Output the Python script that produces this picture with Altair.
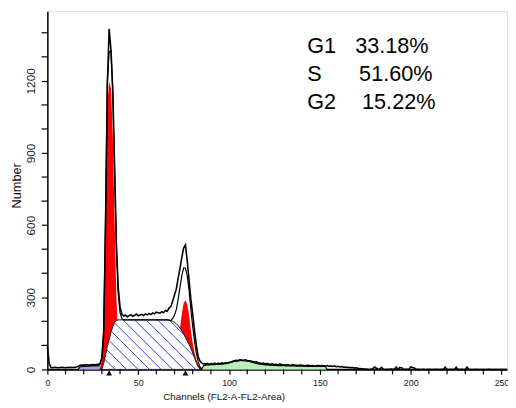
import altair as alt
import numpy as np
import pandas as pd

# ---------------- data ----------------
channels = list(range(0, 254))
counts = (
    [95, 25, 8, 7, 9, 8, 7, 8, 9, 8, 7, 8, 9, 8, 8, 9, 10, 12]                      # 0-17
    + [17, 18, 18, 19, 19, 18, 19, 20, 19, 20, 21, 25]                               # 18-29
    + [48, 150, 600, 1180, 1416, 1330, 1160, 850, 520, 340, 260, 230]                # 30-41
    + [222, 226, 219, 224, 228, 221, 225, 230, 223, 226, 229, 224, 231, 227, 233, 228, 235, 231, 238, 236]  # 42-61
    + [234, 240, 236, 245, 242, 255, 262, 285, 310, 335, 380, 420, 465, 505, 518, 450, 370, 290, 230, 160,
       100, 55, 35, 26, 24]                                                          # 62-86
    + [22, 25, 21, 24, 22, 26, 23, 25, 24, 27, 25, 28, 27, 30, 31, 34, 36, 38, 37, 40,
       39, 38, 40, 37, 36, 35, 33, 31, 32, 28, 27, 25, 26, 23, 24, 22, 21, 23, 20, 21,
       19, 22, 20, 19, 18, 20, 18, 17, 19, 18, 17, 16, 18, 17, 16, 15, 17, 16, 15, 16,
       14, 15, 17, 14, 16, 15, 14, 16, 13, 14, 12, 15, 11, 13, 10, 12, 9, 10, 8, 9,
       7, 8, 6, 7, 5, 4, 3, 2]                                                       # 87-174
    + [2, 1, 0, 1, 2, 10, 6, 1, 2, 9, 1, 0, 1, 0, 2, 1, 0, 10, 1, 8,
       7, 0, 1, 1, 0, 10, 8, 6, 0, 1, 0, 0, 1, 0, 0, 1, 0, 0, 0, 1,
       0, 0, 1, 0, 10, 0, 0, 1, 0, 0, 9, 0, 0, 1, 0, 0, 10, 0, 0, 0,
       0, 1, 0, 0, 0, 0, 0, 0, 1, 0, 0, 0, 0, 0, 0, 0, 0, 0, 0]                      # 175-253
)

g1_ch = list(range(28, 43))
g1_val = [0, 6, 35, 140, 560, 1100, 1195, 1170, 980, 620, 300, 110, 30, 5, 0]

g2_ch = list(range(68, 87))
g2_val = [0, 12, 30, 60, 110, 170, 230, 275, 288, 270, 225, 160, 110, 70, 40, 20, 8, 2, 0]

s_ch = list(range(29, 86))
s_val = ([0, 3, 25, 60, 95, 125, 155, 178, 195, 203]
         + [206, 206, 206, 206, 206, 206, 206, 206, 206, 206, 206, 206, 206, 206,
            206, 206, 206, 206, 206, 206, 206, 206, 206, 206, 206, 206, 206]
         + [206, 205, 203, 200, 196, 190, 182, 172, 160, 147, 133, 119, 104, 87, 68, 48, 28, 11, 2, 0])

debris_ch = list(range(17, 32))
debris_val = [0, 10, 12, 13, 13, 14, 14, 15, 15, 15, 15, 15, 14, 9, 0]

agg_ch = list(range(85, 155))
agg_val = [0, 16, 18, 19, 19, 20, 20, 20, 21, 21,
           21, 22, 23, 24, 25, 27, 29, 31, 33, 34,
           35, 36, 36, 36, 35, 34, 33, 31, 29, 27,
           25, 23, 22, 21, 20, 19, 19, 18, 18, 17,
           17, 17, 16, 16, 16, 16, 15, 15, 15, 15,
           15, 15, 14, 14, 14, 14, 14, 14, 13, 13,
           13, 13, 13, 13, 12, 12, 12, 12, 12, 0]

peak_channels = [34, 76]
phase_labels = ["G1", "S", "G2"]
phase_pcts = ["33.18%", "51.60%", "15.22%"]

x_major = [0, 50, 100, 150, 200, 250]
x_minor = [10, 20, 30, 40, 60, 70, 80, 90, 110, 120, 130, 140, 160, 170, 180, 190, 210, 220, 230, 240]
y_major = [0, 300, 600, 900, 1200]
y_minor = [100, 200, 400, 500, 700, 800, 1000, 1100, 1300, 1400]

# ---------------- layout ----------------
W, H = 467, 364
XMAX, YMAX = 253, 1490
FONT = "Liberation Sans"

assert len(counts) == len(channels)

# model (sum of fitted components)
model = np.zeros(len(channels))
for chs, vals in [(g1_ch, g1_val), (g2_ch, g2_val), (s_ch, s_val), (debris_ch, debris_val), (agg_ch, agg_val)]:
    model[np.array(chs)] += np.array(vals, dtype=float)

df_line = pd.DataFrame({"ch": channels, "data": counts, "model": model})
df_g1 = pd.DataFrame({"ch": g1_ch, "v": g1_val})
df_g2 = pd.DataFrame({"ch": g2_ch, "v": g2_val})
df_s = pd.DataFrame({"ch": s_ch, "v": s_val})
df_deb = pd.DataFrame({"ch": debris_ch, "v": debris_val})
df_agg = pd.DataFrame({"ch": agg_ch, "v": agg_val})
df_peaks = pd.DataFrame({"ch": peak_channels})
df_xminor = pd.DataFrame({"ch": x_minor})
df_yminor = pd.DataFrame({"v": y_minor})

# hatch segments for the S region (45 degree lines in screen space)
kx, ky = W / XMAX, H / YMAX
X = np.arange(s_ch[0] * kx, s_ch[-1] * kx, 0.05)
Sp = np.interp(X / kx, s_ch, s_val) * ky
step = 11.7
rows = []
c = 68.7 - step * 2
while c < X.max() + Sp.max() + step:
    Y = c - X
    m = (Y >= 0) & (Y <= Sp)
    if m.sum() > 3:
        xa, xb = X[m].min(), X[m].max()
        rows.append({"ch": xa / kx, "v": (c - xa) / ky, "ch2": xb / kx, "v2": (c - xb) / ky})
    c += step
df_hatch = pd.DataFrame(rows)

x_scale = alt.Scale(domain=[0, XMAX], nice=False, zero=False)
y_scale = alt.Scale(domain=[0, YMAX], nice=False, zero=False)

x_axis = alt.Axis(
    values=x_major, format="d", labelFlush=False, labelOverlap=False, grid=False,
    tickSize=5, tickColor="black", tickWidth=1.2, domainColor="black", domainWidth=1.5,
    labelFont=FONT, labelFontSize=9, labelColor="#222", labelPadding=4,
    title="Channels (FL2-A-FL2-Area)", titleFont=FONT, titleFontSize=10, titleFontWeight="normal",
    titleColor="#111", titleX=179, titleY=28, titleAlign="center", titleBaseline="middle",
)
y_axis = alt.Axis(
    values=y_major, format="d", labelFlush=False, labelOverlap=False, grid=False,
    tickSize=6, tickColor="black", tickWidth=1.2, domainColor="black", domainWidth=1.5,
    labelFont=FONT, labelFontSize=12, labelColor="#222", labelAngle=270,
    labelAlign="center", labelBaseline="bottom", labelPadding=4,
    title="Number", titleFont=FONT, titleFontSize=13, titleFontWeight="normal", titleColor="#111",
    titleAngle=270, titleX=-31, titleY=177, titleAlign="center", titleBaseline="middle",
)


def xe(field="ch"):
    return alt.X(f"{field}:Q", scale=x_scale, axis=x_axis)


def ye(field="v"):
    return alt.Y(f"{field}:Q", scale=y_scale, axis=y_axis)


agg = alt.Chart(df_agg).mark_area(color="#b8efb8", interpolate="linear").encode(x=xe(), y=ye())
deb = alt.Chart(df_deb).mark_area(color="#a4a4e0", interpolate="linear").encode(x=xe(), y=ye())
g1 = alt.Chart(df_g1).mark_area(color="#ff0000", interpolate="linear").encode(x=xe(), y=ye())
g2 = alt.Chart(df_g2).mark_area(color="#ff0000", interpolate="linear").encode(x=xe(), y=ye())
s_area = alt.Chart(df_s).mark_area(fill="white", stroke="#111", strokeWidth=1, interpolate="linear").encode(x=xe(), y=ye())
hatch = alt.Chart(df_hatch).mark_rule(color="#3a3af5", strokeWidth=1).encode(
    x=xe(), y=ye(), x2="ch2:Q", y2="v2:Q")
model_line = alt.Chart(df_line).mark_line(color="black", strokeWidth=1.2, interpolate="linear").encode(
    x=xe(), y=ye("model"))
data_line = alt.Chart(df_line).mark_line(color="black", strokeWidth=1.6, interpolate="linear").encode(
    x=xe(), y=ye("data"))
peaks = alt.Chart(df_peaks).mark_point(shape="triangle-up", filled=True, color="black", size=35, opacity=1).encode(
    x=xe(), y=alt.value(H + 3.5))
xminor = alt.Chart(df_xminor).mark_rule(color="black", strokeWidth=1.2).encode(
    x=xe(), y=alt.value(H), y2=alt.value(H + 5))
yminor = alt.Chart(df_yminor).mark_rule(color="black", strokeWidth=1.2).encode(
    y=ye(), x=alt.value(-6), x2=alt.value(0))

texts = []
row_y = [36, 64, 92]
val_x = [350, 354, 357]
for lab, pct, yy, vx in zip(phase_labels, phase_pcts, row_y, val_x):
    d = pd.DataFrame({"lab": [lab], "pct": [pct]})
    texts.append(alt.Chart(d).mark_text(font=FONT, fontSize=22, align="left", baseline="middle", color="black")
                 .encode(text="lab:N", x=alt.value(264), y=alt.value(yy)))
    texts.append(alt.Chart(d).mark_text(font=FONT, fontSize=22, align="center", baseline="middle", color="black")
                 .encode(text="pct:N", x=alt.value(vx), y=alt.value(yy)))

chart = alt.layer(agg, deb, g1, g2, s_area, hatch, model_line, data_line, peaks, xminor, yminor, *texts).properties(
    width=W, height=H,
    autosize=alt.AutoSizeParams(type="none"),
    padding={"left": 40, "top": 0, "right": 1, "bottom": 36},
).configure_view(stroke="transparent").configure(background="white")

chart.save("out.html", embed_options={"renderer": "svg", "actions": False})
